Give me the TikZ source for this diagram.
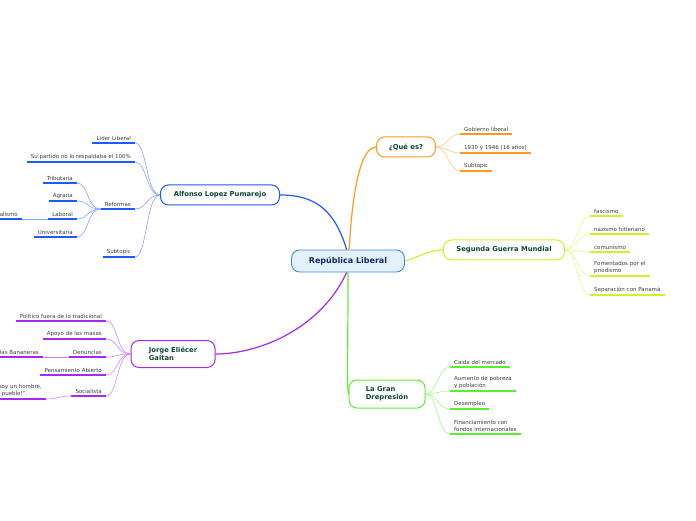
\documentclass[tikz,border=0pt]{standalone}
\usepackage{fontspec}
\setmainfont{DejaVu Sans}
\usepackage{tikz}
\usetikzlibrary{arrows.meta,positioning,calc}
\definecolor{topicBlue}{RGB}{30,90,255}
\definecolor{topicOrange}{RGB}{255,155,30}
\definecolor{topicYellow}{RGB}{212,240,40}
\definecolor{topicGreen}{RGB}{90,240,50}
\definecolor{topicPurple}{RGB}{165,40,245}
\definecolor{titleText}{RGB}{15,70,50}
\definecolor{leafText}{RGB}{60,60,60}
\definecolor{rootFill}{RGB}{226,241,252}
\definecolor{rootLine}{RGB}{60,140,225}
\definecolor{rootText}{RGB}{25,40,90}

\begin{document}
\begin{tikzpicture}[x=1pt,y=1pt,
    root/.style={draw=rootLine, fill=rootFill, line width=0.9pt, rounded corners=8pt,
      minimum width=113pt, minimum height=22pt, inner sep=0pt,
      font=\fontsize{8}{9}\selectfont\bfseries, text=rootText},
    topic/.style={draw=#1, fill=white, line width=1pt, rounded corners=8pt,
      inner sep=0pt, align=left, font=\fontsize{6.8}{8}\selectfont\bfseries, text=titleText},
    leaf/.style={inner xsep=4pt, inner ysep=2.5pt, align=left,
      font=\fontsize{5.5}{6.6}\selectfont, text=leafText},
    branch/.style={#1, line width=1.2pt},
    twig/.style={#1!55, line width=0.6pt},
    under/.style={#1, line width=1.3pt}]
  \useasboundingbox (0,0) rectangle (696,520);

  % Central topic
  \node[root] (rl) at (348,259) {República Liberal};

  % Main topics
  \node[topic=topicBlue, minimum width=119pt, minimum height=20pt] (alf) at (220,325) {Alfonso Lopez Pumarejo};
  \node[topic=topicOrange, minimum width=59pt, minimum height=20pt] (que) at (406,373) {¿Qué es?};
  \node[topic=topicYellow, minimum width=121pt, minimum height=20pt] (sgm) at (504,270) {Segunda Guerra Mundial};
  \node[topic=topicPurple, minimum width=84pt, minimum height=27pt] (jeg) at (173,166) {Jorge Eliécer\\Gaitan};
  \node[topic=topicGreen, minimum width=76pt, minimum height=28pt] (lgd) at (387,126) {La Gran\\Drepresión};

  % Branches from the centre
  \draw[branch=topicBlue] (rl.97) .. controls +(-12,40) and +(35,0) .. (alf.east);
  \draw[branch=topicOrange] (rl.84) .. controls +(4,75) and +(-12,0) .. (que.west);
  \draw[branch=topicYellow] (rl.east) .. controls +(15,4) and +(-15,0) .. (sgm.west);
  \draw[branch=topicPurple] (rl.263) .. controls +(-25,-55) and +(45,0) .. (jeg.east);
  \draw[branch=topicGreen] (rl.south) .. controls +(0,-95) and +(-2,12) .. (lgd.west);

  % Alfonso Lopez Pumarejo
  \foreach \y/\nm/\lab in {377/lib/Lider Liberal, 358/par/Su partido no lo respaldaba el 100\%,
    311/ref/Reformas, 263/sub/Subtopic} {
    \node[leaf, anchor=south east] (alf-\nm) at (135,\y) {\lab};
    \draw[under=topicBlue] (alf-\nm.south west) -- (alf-\nm.south east);
    \draw[twig=topicBlue] (alf.west) .. controls +(-14,0) and +(12,0) .. (alf-\nm.south east);
  }
  \foreach \y/\nm/\lab in {337/tri/Tributaria, 319/agr/Agraria, 301/lab/Laboral, 283/uni/Universitaria} {
    \node[leaf, anchor=south east] (ref-\nm) at (77,\y) {\lab};
    \draw[under=topicBlue] (ref-\nm.south west) -- (ref-\nm.south east);
    \draw[twig=topicBlue] (alf-ref.south west) .. controls +(-14,0) and +(12,0) .. (ref-\nm.south east);
  }
  \node[leaf, anchor=south east] (lab-sin) at (22,301) {Sindicalismo};
  \draw[under=topicBlue] (lab-sin.south west) -- (lab-sin.south east);
  \draw[twig=topicBlue] (ref-lab.south west) -- (lab-sin.south east);

  % Jorge Eliecer Gaitan
  \foreach \y/\nm/\lab in {199/pol/Político fuera de lo tradicional, 181/apo/Apoyo de las masas,
    163/den/Denuncias, 145/pen/Pensamiento Abierto, 124/soc/Socialista} {
    \node[leaf, anchor=south east] (jeg-\nm) at (106,\y) {\lab};
    \draw[under=topicPurple] (jeg-\nm.south west) -- (jeg-\nm.south east);
    \draw[twig=topicPurple] (jeg.west) .. controls +(-14,0) and +(12,0) .. (jeg-\nm.south east);
  }
  \node[leaf, anchor=south east] (den-mas) at (43,163) {Masacre de las Bananeras};
  \draw[under=topicPurple] (den-mas.south west) -- (den-mas.south east);
  \draw[twig=topicPurple] (jeg-den.south west) -- (den-mas.south east);
  \node[leaf, anchor=south east] (soc-cit) at (46,121) {``Yo no soy un hombre,\\¡soy un pueblo!''.};
  \draw[under=topicPurple] (soc-cit.south west) -- (soc-cit.south east);
  \draw[twig=topicPurple] (jeg-soc.south west) .. controls +(-12,0) and +(12,0) .. (soc-cit.south east);

  % Que es
  \foreach \y/\nm/\lab in {386/gob/Gobierno liberal, 367/ano/1930 y 1946 (16 años), 349/sub/Subtopic} {
    \node[leaf, anchor=south west] (que-\nm) at (460,\y) {\lab};
    \draw[under=topicOrange] (que-\nm.south west) -- (que-\nm.south east);
    \draw[twig=topicOrange] (que.east) .. controls +(12,0) and +(-12,0) .. (que-\nm.south west);
  }

  % Segunda Guerra Mundial
  \foreach \y/\nm/\lab in {304/fas/fascismo, 286/naz/nazismo hitleriano, 268/com/comunismo,
    244/fom/{Fomentados por el\\priodismo}, 225/sep/Separación con Panamá} {
    \node[leaf, anchor=south west] (sgm-\nm) at (590,\y) {\lab};
    \draw[under=topicYellow] (sgm-\nm.south west) -- (sgm-\nm.south east);
    \draw[twig=topicYellow] (sgm.east) .. controls +(12,0) and +(-12,0) .. (sgm-\nm.south west);
  }

  % La Gran Drepresion
  \foreach \y/\nm/\lab in {153/cai/Caida del mercado, 129/aum/{Aumento de pobreza\\y población},
    111/des/Desempleo, 86/fin/{Financiamiento con\\fondos internacionales}} {
    \node[leaf, anchor=south west] (lgd-\nm) at (450,\y) {\lab};
    \draw[under=topicGreen] (lgd-\nm.south west) -- (lgd-\nm.south east);
    \draw[twig=topicGreen] (lgd.east) .. controls +(12,0) and +(-12,0) .. (lgd-\nm.south west);
  }
\end{tikzpicture}
\end{document}
